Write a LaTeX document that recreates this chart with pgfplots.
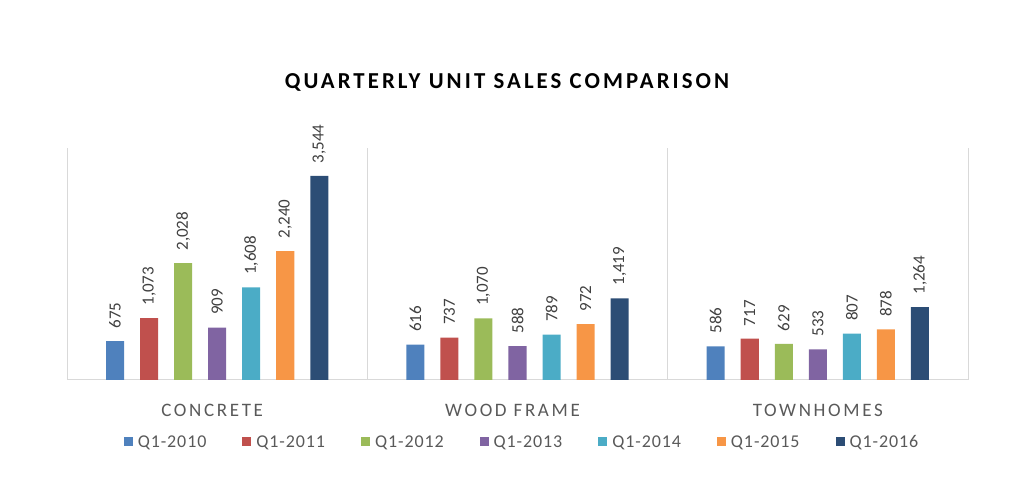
\documentclass[border=0pt]{standalone}
\usepackage{pgfplots}
\pgfplotsset{compat=1.18}
\usepackage{fontspec}
\setmainfont{Carlito}
\newfontfamily\titlefont{Carlito}[LetterSpace=13.5]
\newfontfamily\catfont{Carlito}[LetterSpace=14]
\newfontfamily\legfont{Carlito}[LetterSpace=5]

\definecolor{cA}{HTML}{4F81BD}
\definecolor{cB}{HTML}{C0504D}
\definecolor{cC}{HTML}{9BBB59}
\definecolor{cD}{HTML}{8064A2}
\definecolor{cE}{HTML}{4BACC6}
\definecolor{cF}{HTML}{F79646}
\definecolor{cG}{HTML}{2C4D75}
\definecolor{sepgray}{HTML}{D9D9D9}
\definecolor{labgray}{HTML}{404040}
\definecolor{txtgray}{HTML}{595959}

\begin{document}
\begin{tikzpicture}[x=1pt,y=1pt]
\path[use as bounding box] (-67,-98) rectangle (960,380);
\node[font={\titlefont\bfseries\fontsize{22.8}{27}\selectfont}, text=black] at (440,298) {QUARTERLY UNIT SALES COMPARISON};
\begin{axis}[
  at={(0,0)}, anchor=south west,
  scale only axis, width=901pt, height=232pt,
  xmin=-0.5, xmax=2.5, ymin=0, ymax=4030,
  axis line style={draw=none},
  ytick=\empty,
  xtick={0,1,2},
  xticklabels={{\kern-10pt CONCRETE},{\kern-10pt WOOD FRAME},{TOWNHOMES}},
  xtick style={draw=none},
  xticklabel style={font={\catfont\fontsize{19}{22}\selectfont}, text=txtgray, anchor=base, yshift=-32pt},
  ybar, bar width=0.06,
  nodes near coords,
  every node near coord/.append style={rotate=90, anchor=west, font={\fontsize{17}{19}\selectfont}, text=labgray, inner xsep=12.5pt, inner ysep=0pt,
    /pgf/number format/1000 sep={,}, /pgf/number format/assume math mode=true},
  legend columns=7,
  legend style={at={(0.505,-0.267)}, anchor=center, draw=none, fill=none,
    font={\legfont\fontsize{18}{20}\selectfont}, text=txtgray,
    /tikz/every odd column/.append style={column sep=3pt},
    /tikz/every even column/.append style={column sep=34pt}},
  legend image code/.code={\fill[#1] (0pt,-4.5pt) rectangle (9pt,4.5pt);},
  clip=false,
]
% group separators and baseline
\draw[sepgray, line width=1pt] (axis cs:-0.5,0) -- (axis cs:2.5,0);
\foreach \s in {-0.5,0.5,1.5,2.5} {
  \edef\tmp{\noexpand\draw[sepgray, line width=1pt] (axis cs:\s,0) -- (axis cs:\s,4030);}\tmp
}
\addplot[fill=cA, draw=none, bar shift=-0.34] coordinates {(0,675) (1,616) (2,586)};
\addplot[fill=cB, draw=none, bar shift=-0.2267] coordinates {(0,1073) (1,737) (2,717)};
\addplot[fill=cC, draw=none, bar shift=-0.1133] coordinates {(0,2028) (1,1070) (2,629)};
\addplot[fill=cD, draw=none, bar shift=0] coordinates {(0,909) (1,588) (2,533)};
\addplot[fill=cE, draw=none, bar shift=0.1133] coordinates {(0,1608) (1,789) (2,807)};
\addplot[fill=cF, draw=none, bar shift=0.2267] coordinates {(0,2240) (1,972) (2,878)};
\addplot[fill=cG, draw=none, bar shift=0.34] coordinates {(0,3544) (1,1419) (2,1264)};
\legend{Q1-2010, Q1-2011, Q1-2012, Q1-2013, Q1-2014, Q1-2015, Q1-2016}
\end{axis}
\end{tikzpicture}
\end{document}
